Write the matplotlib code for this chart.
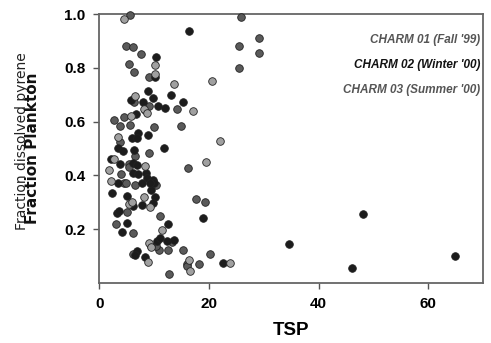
import matplotlib
matplotlib.use("Agg")
import matplotlib.pyplot as plt

# CHARM 01 (Fall '99) - dark gray
c1_x = [5.6, 4.87, 6.15, 7.6, 5.42, 6.33, 9.06, 25.84, 25.48, 25.48, 29.13, 29.13,
        6.33, 8.33, 9.06, 14.17, 2.68, 4.5, 3.77, 5.6, 9.98, 14.9, 3.77, 6.51, 9.06,
        5.42, 16.18, 3.96, 4.5, 4.87, 6.51, 10.34, 5.05, 11.07, 17.64, 19.28, 3.06,
        6.15, 13.26, 10.89, 10.34, 12.53, 15.27, 6.15, 9.43, 16.0, 16.0, 18.18, 20.19,
        12.71, 5.42]
c1_y = [0.996, 0.881, 0.877, 0.851, 0.814, 0.784, 0.766, 0.989, 0.881, 0.799, 0.911, 0.855,
        0.673, 0.643, 0.658, 0.647, 0.606, 0.617, 0.584, 0.587, 0.580, 0.584, 0.524, 0.472, 0.483,
        0.442, 0.428, 0.405, 0.372, 0.372, 0.364, 0.364, 0.264, 0.249, 0.312, 0.301, 0.219,
        0.186, 0.152, 0.123, 0.138, 0.123, 0.123, 0.108, 0.138, 0.071, 0.063, 0.071, 0.108,
        0.033, 0.431]

# CHARM 02 (Winter '00) - black
c2_x = [16.36, 10.34, 10.16, 8.88, 9.79, 13.08, 15.27, 5.78, 7.97, 10.71, 11.98, 6.69,
        3.41, 4.32, 5.96, 7.06, 6.88, 8.88, 6.33, 11.8, 2.13, 3.77, 6.15, 6.88, 6.15,
        7.06, 8.52, 8.7, 3.41, 7.79, 9.79, 9.98, 2.32, 5.05, 9.43, 10.16, 9.79, 6.15,
        7.79, 3.23, 3.59, 18.91, 5.05, 4.14, 12.53, 10.52, 11.07, 12.35, 13.62, 6.88,
        6.51, 8.33, 22.56, 34.6, 48.1, 46.1, 64.9, 9.25]
c2_y = [0.937, 0.840, 0.766, 0.714, 0.688, 0.699, 0.673, 0.680, 0.673, 0.658, 0.651, 0.628,
        0.502, 0.491, 0.539, 0.558, 0.539, 0.550, 0.494, 0.502, 0.461, 0.442, 0.446, 0.439, 0.409,
        0.405, 0.409, 0.390, 0.372, 0.372, 0.383, 0.372, 0.335, 0.323, 0.346, 0.320, 0.297, 0.286,
        0.290, 0.260, 0.268, 0.242, 0.223, 0.190, 0.219, 0.156, 0.167, 0.156, 0.160, 0.119,
        0.104, 0.097, 0.074, 0.145, 0.257, 0.056, 0.100, 0.372]

# CHARM 03 (Summer '00) - light gray
c3_x = [4.5, 10.16, 10.16, 13.62, 20.55, 6.51, 8.15, 8.7, 17.09, 5.78, 3.41, 22.01,
        2.68, 8.33, 19.46, 1.77, 2.13, 8.15, 5.42, 5.96, 9.25, 11.43, 9.06, 8.88, 9.43,
        16.36, 16.54, 23.84]
c3_y = [0.981, 0.810, 0.777, 0.740, 0.751, 0.695, 0.647, 0.632, 0.639, 0.621, 0.543, 0.528,
        0.461, 0.435, 0.450, 0.420, 0.379, 0.320, 0.294, 0.301, 0.283, 0.197, 0.149, 0.078, 0.134,
        0.086, 0.045, 0.074]

series_labels = ["CHARM 01 (Fall '99)", "CHARM 02 (Winter '00)", "CHARM 03 (Summer '00)"]
x_ticks = [0, 20, 40, 60]
y_ticks = [0.2, 0.4, 0.6, 0.8, 1.0]

fig = plt.figure(figsize=(4.91, 3.43), dpi=100)
ax = fig.add_axes([99.3 / 491, 1 - 283 / 343, (483 - 99.3) / 491, (283 - 14) / 343])

fills = ["#5a5a5a", "#1c1c1c", "#a0a0a0"]
series = [(c1_x, c1_y), (c2_x, c2_y), (c3_x, c3_y)]
for (xs, ys), fc in zip(series, fills):
    ax.scatter(xs, ys, s=30, facecolor=fc, edgecolor="#222222", linewidth=0.6,
               clip_on=False, zorder=3)

ax.set_xlim(0, 70)
ax.set_ylim(0, 1.0)
ax.set_xticks(x_ticks)
ax.set_xticklabels([str(t) for t in x_ticks])
ax.set_yticks(y_ticks)
ax.set_yticklabels([f"{t:.1f}" for t in y_ticks])

for sp in ax.spines.values():
    sp.set_color("#666666")
    sp.set_linewidth(1.3)
ax.tick_params(direction="out", length=4, width=1, color="#555555", pad=6)
for lab in ax.get_xticklabels() + ax.get_yticklabels():
    lab.set_fontfamily("Liberation Sans")
    lab.set_fontweight("bold")
    lab.set_fontsize(11)

ax.set_xlabel("TSP", fontfamily="Liberation Sans", fontweight="bold", fontsize=13.5, labelpad=8)

fig.text(22 / 491, 1 - 141 / 343, "Fraction dissolved pyrene", rotation=90,
         ha="center", va="center", fontsize=10, fontfamily="DejaVu Sans", color="#222222")
fig.text(33 / 491, 1 - 148 / 343, "Fraction Plankton", rotation=90,
         ha="center", va="center", fontsize=11, fontweight="bold", fontfamily="DejaVu Sans",
         color="#111111")

txt_colors = ["#555555", "#111111", "#555555"]
ys_txt = [40, 65, 90]
for lab, c, yp in zip(series_labels, txt_colors, ys_txt):
    fig.text(480 / 491, 1 - yp / 343, lab, ha="right", va="center", fontsize=8.5,
             fontfamily="Liberation Sans", fontweight="bold", fontstyle="italic", color=c)

fig.savefig("out.png", dpi=100)
